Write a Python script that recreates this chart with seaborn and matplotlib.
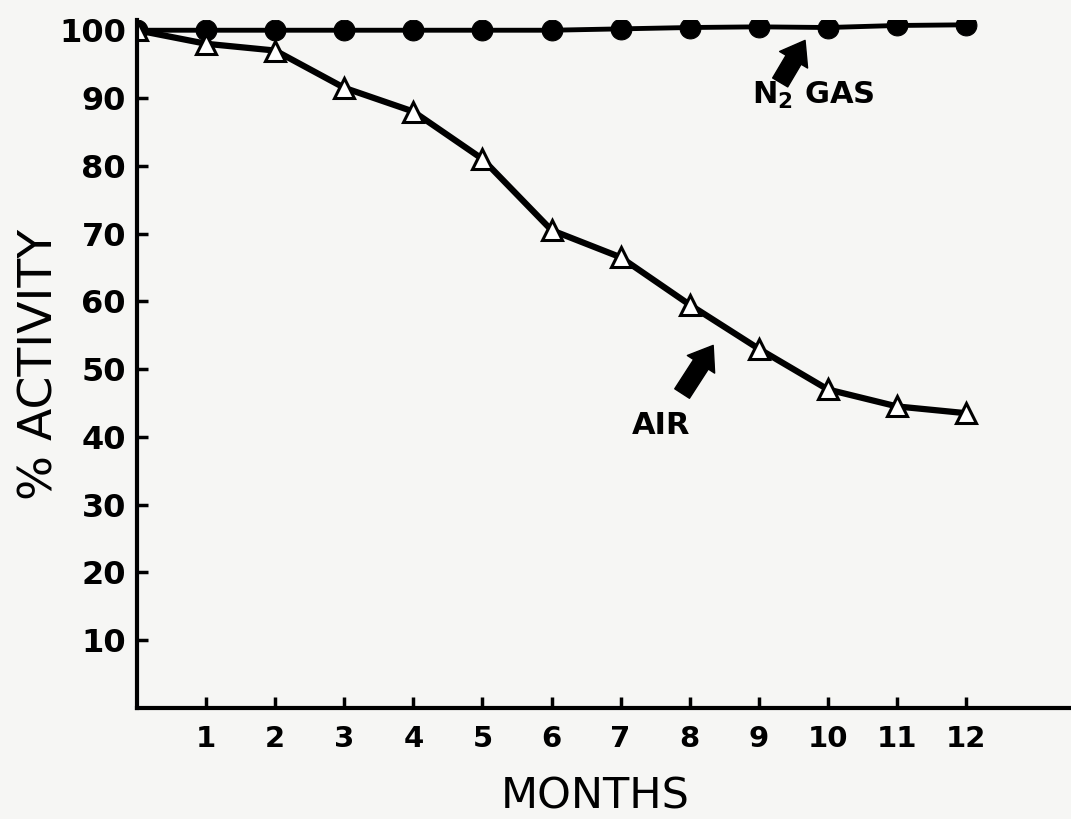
import numpy as np
import pandas as pd
import matplotlib
matplotlib.use("Agg")
import matplotlib.pyplot as plt
import seaborn as sns

# values
months = [0, 1, 2, 3, 4, 5, 6, 7, 8, 9, 10, 11, 12]
n2_gas = [100, 100, 100, 100, 100, 100, 100, 100.2, 100.4, 100.5, 100.4, 100.7, 100.8]
air = [100, 98, 97, 91.5, 88, 81, 70.5, 66.5, 59.5, 53, 47, 44.5, 43.5]
y_ticks = [10, 20, 30, 40, 50, 60, 70, 80, 90, 100]
x_ticks = [1, 2, 3, 4, 5, 6, 7, 8, 9, 10, 11, 12]


def main():
    sns.set_style("ticks")
    plt.rcParams['font.family'] = ['DejaVu Sans']
    plt.rcParams['text.color'] = 'black'
    plt.rcParams['axes.labelcolor'] = 'black'

    df = pd.DataFrame({"MONTHS": months, "N2": n2_gas, "AIR": air})

    bg = "#f6f6f4"
    fig = plt.figure(figsize=(10.71, 8.19), dpi=100, facecolor=bg)
    ax = fig.add_axes([0.128, 0.1355, 0.872, 0.840])
    ax.set_facecolor(bg)

    # nitrogen: filled circles
    sns.lineplot(x="MONTHS", y="N2", data=df, ax=ax, color="black", lw=3.5,
                 marker="o", markersize=15, markeredgecolor="black",
                 markerfacecolor="black")
    # air: open triangles
    sns.lineplot(x="MONTHS", y="AIR", data=df, ax=ax, color="black", lw=4.5,
                 marker="^", markersize=14, markeredgecolor="black",
                 markerfacecolor="white", markeredgewidth=2.2)

    ax.set_xlim(0, 13.52)
    ax.set_ylim(0, 101.5)
    ax.set_xticks(x_ticks)
    ax.set_xticklabels([str(t) for t in x_ticks])
    ax.set_yticks(y_ticks)
    ax.set_yticklabels([str(t) for t in y_ticks])

    for s in ["top", "right"]:
        ax.spines[s].set_visible(False)
    for s in ["left", "bottom"]:
        ax.spines[s].set_linewidth(3)
        ax.spines[s].set_color("black")

    ax.tick_params(axis="both", direction="in", length=8, width=2.5,
                   colors="black")
    ax.tick_params(axis="x", pad=12, labelsize=21)
    ax.tick_params(axis="y", pad=8, labelsize=23)
    for lab in ax.get_xticklabels() + ax.get_yticklabels():
        lab.set_fontweight("bold")

    ax.set_xlabel("MONTHS", fontsize=31, va="center", ha="center")
    ax.set_ylabel("% ACTIVITY", fontsize=34, va="center", ha="center")
    ax.xaxis.set_label_coords(0.49, -0.129)
    ax.yaxis.set_label_coords(-0.104, 0.5)

    arrow = dict(arrowstyle="simple, head_width=1.3, head_length=0.9, tail_width=0.7",
                 color="black", mutation_scale=18, shrinkA=0, shrinkB=0)
    ax.annotate("", xy=(9.67, 98.5), xytext=(9.31, 92.3), arrowprops=arrow)
    ax.text(8.9, 90.4, "N$_\\mathbf{2}$ GAS", fontsize=22, fontweight="bold",
            ha="left", va="center")
    ax.annotate("", xy=(8.34, 53.5), xytext=(7.89, 46.4), arrowprops=arrow)
    ax.text(7.16, 41.7, "AIR", fontsize=22, fontweight="bold",
            ha="left", va="center")

    fig.savefig("out.png", dpi=100, facecolor=bg)


if __name__ == "__main__":
    main()
